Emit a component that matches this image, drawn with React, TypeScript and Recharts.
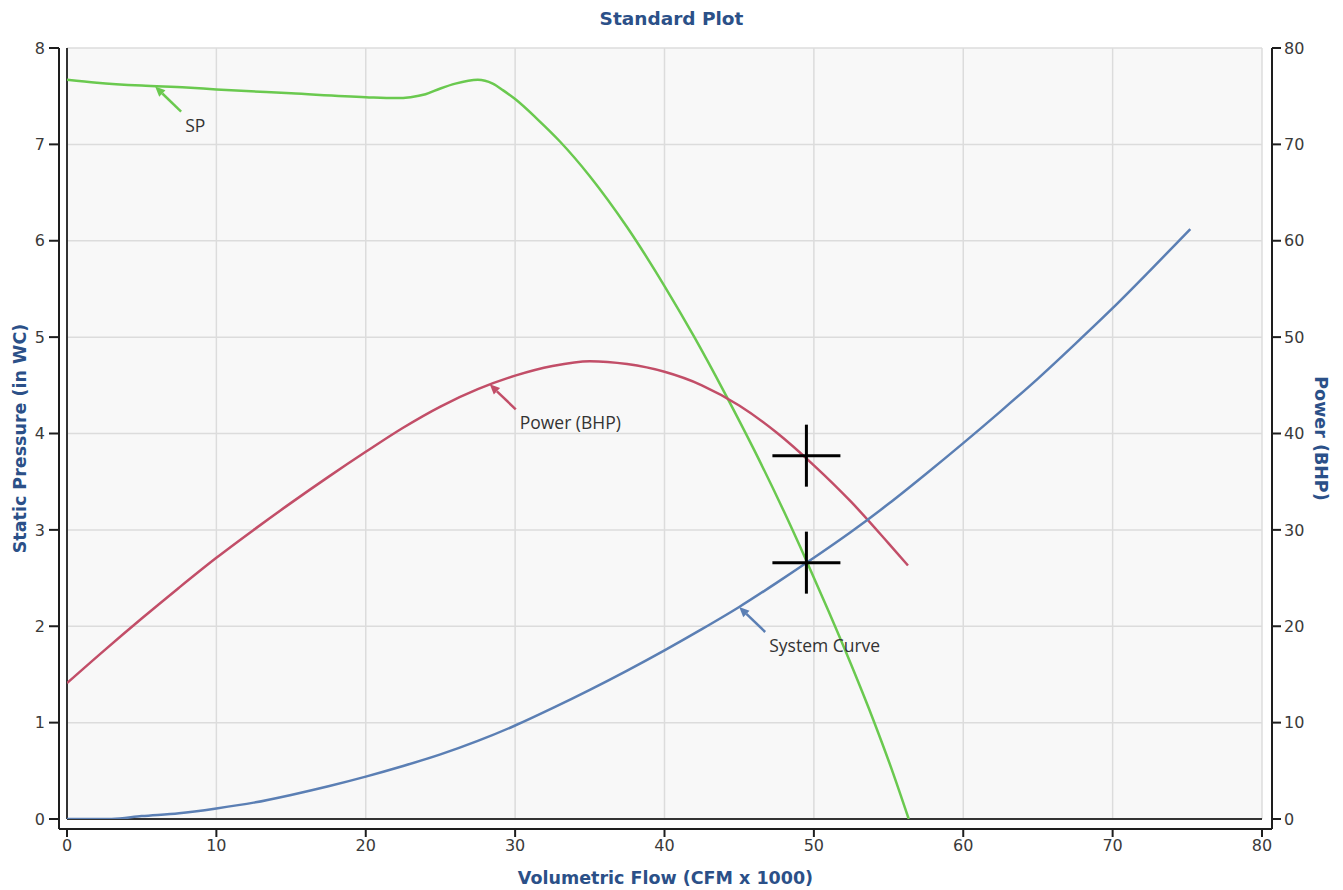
import {
  ComposedChart,
  Line,
  Scatter,
  XAxis,
  YAxis,
  ReferenceArea,
  ReferenceLine,
} from "recharts"

// flow in CFM x 1000
const spFlow = [0, 2, 5, 8, 10, 15, 20, 22, 23, 24, 25, 26, 27.5, 28.5, 29.2, 30, 31.5, 33, 35, 37.5, 40, 42, 44, 46, 48, 49.5, 51, 52.5, 54, 55.2, 56.35]
const spValues = [7.67, 7.64, 7.61, 7.59, 7.57, 7.53, 7.49, 7.48, 7.49, 7.52, 7.58, 7.63, 7.67, 7.63, 7.56, 7.47, 7.26, 7.03, 6.67, 6.14, 5.53, 5.0, 4.43, 3.83, 3.19, 2.68, 2.15, 1.6, 1.02, 0.52, 0]

const powerFlow = [0, 2.5, 5, 7.5, 10, 12.5, 15, 17.5, 20, 22.5, 25, 27.5, 30, 32.5, 35, 37.5, 40, 42.5, 45, 47.5, 50, 52.5, 55, 56.3]
const powerValues = [14.1, 17.5, 20.8, 24.0, 27.1, 30.0, 32.8, 35.5, 38.1, 40.6, 42.8, 44.6, 46.0, 47.0, 47.5, 47.2, 46.4, 45.0, 42.9, 40.1, 36.7, 32.9, 28.6, 26.3]

const systemFlow = [0, 3, 5, 7.5, 10, 12.5, 15, 17.5, 20, 22.5, 25, 27.5, 30, 32.5, 35, 37.5, 40, 42.5, 45, 47.5, 50, 52.5, 55, 57.5, 60, 62.5, 65, 67.5, 70, 72.5, 75.2]
const systemValues = [0, 0, 0.03, 0.06, 0.11, 0.17, 0.25, 0.34, 0.44, 0.55, 0.67, 0.81, 0.97, 1.15, 1.34, 1.54, 1.75, 1.97, 2.2, 2.45, 2.71, 2.98, 3.27, 3.58, 3.9, 4.23, 4.57, 4.93, 5.3, 5.69, 6.12]

// operating point
const opFlow = 49.5
const opPressure = 2.66
const opPower = 37.7

const xTicks = [0, 10, 20, 30, 40, 50, 60, 70, 80]
const spTicks = [0, 1, 2, 3, 4, 5, 6, 7, 8]
const powerTicks = [0, 10, 20, 30, 40, 50, 60, 70, 80]

const GREEN = "#6ac94f"
const RED = "#c24e68"
const BLUE = "#5b7fb4"
const NAVY = "#2b5088"

// callouts: where the arrow points on each curve
const spNote = [{ x: 5.9, y: 7.6, text: "SP", color: GREEN }]
const powerNote = [{ x: 28.3, y: 45.1, text: "Power (BHP)", color: RED }]
const systemNote = [{ x: 45, y: 2.2, text: "System Curve", color: BLUE }]

const toPoints = (xs: number[], ys: number[]) => xs.map((x, i) => ({ x, y: ys[i] }))
const spData = toPoints(spFlow, spValues)
const powerData = toPoints(powerFlow, powerValues)
const systemData = toPoints(systemFlow, systemValues)

const tickStyle = { fontSize: 16, fill: "#3a3a3a", fontFamily: "DejaVu Sans" }
const axisStroke = { stroke: "#1e1e1e", strokeWidth: 2 }
const titleStyle = { fontSize: 17.5, fontWeight: 700, fill: NAVY, fontFamily: "DejaVu Sans" }

function Cross(props: any) {
  const { cx, cy } = props
  return (
    <g>
      <line x1={cx - 34} x2={cx + 34} y1={cy} y2={cy} stroke="#000" strokeWidth={3} />
      <line x1={cx} x2={cx} y1={cy - 31} y2={cy + 31} stroke="#000" strokeWidth={3} />
    </g>
  )
}

function Callout(props: any) {
  const { cx, cy, payload } = props
  const c = payload.color
  const dx = 26
  const dy = 25
  const len = Math.hypot(dx, dy)
  const ux = dx / len
  const uy = dy / len
  const head = 10
  const wing = 4.5
  const bx = cx + ux * head
  const by = cy + uy * head
  return (
    <g>
      <line x1={cx + dx} y1={cy + dy} x2={bx} y2={by} stroke={c} strokeWidth={2.5} />
      <polygon
        points={`${cx},${cy} ${bx - uy * wing},${by + ux * wing} ${bx + uy * wing},${by - ux * wing}`}
        fill={c}
      />
      <text
        x={cx + 30}
        y={cy + 38}
        dominantBaseline="central"
        fontSize={17.5}
        fontFamily="'Open Sans'"
        fill="#333"
      >
        {payload.text}
      </text>
    </g>
  )
}

export default function App() {
  return (
    <div style={{ position: "absolute", left: 0, top: 0, width: 1343, height: 890, background: "#fff" }}>
      <div
        style={{
          position: "absolute",
          top: 8,
          left: 0,
          width: 1343,
          textAlign: "center",
          fontFamily: "DejaVu Sans",
          fontWeight: 700,
          fontSize: 18.5,
          color: NAVY,
        }}
      >
        Standard Plot
      </div>
      <ComposedChart width={1343} height={890} margin={{ top: 48, right: 0, bottom: 0, left: 0 }}>
        <XAxis
          type="number"
          dataKey="x"
          domain={[0, 80]}
          ticks={xTicks}
          allowDataOverflow
          padding={{ left: 8, right: 10 }}
          height={61}
          tickSize={8}
          tickMargin={3}
          tick={tickStyle}
          axisLine={axisStroke}
          tickLine={axisStroke}
          label={{ value: "Volumetric Flow (CFM x 1000)", position: "insideBottom", offset: 6, style: titleStyle }}
        />
        <YAxis
          yAxisId="left"
          dataKey="y"
          type="number"
          domain={[0, 8]}
          ticks={spTicks}
          allowDataOverflow
          padding={{ top: 0, bottom: 10 }}
          width={59}
          tickSize={10}
          tickMargin={4}
          tick={tickStyle}
          axisLine={axisStroke}
          tickLine={axisStroke}
          label={{
            value: "Static Pressure (in WC)",
            angle: -90,
            position: "insideLeft",
            offset: 20,
            style: { ...titleStyle, textAnchor: "middle" },
          }}
        />
        <YAxis
          yAxisId="right"
          orientation="right"
          dataKey="y"
          type="number"
          domain={[0, 80]}
          ticks={powerTicks}
          allowDataOverflow
          padding={{ top: 0, bottom: 10 }}
          width={71}
          tickSize={9}
          tickMargin={3}
          tick={tickStyle}
          axisLine={axisStroke}
          tickLine={axisStroke}
          label={{
            value: "Power (BHP)",
            angle: 90,
            position: "insideRight",
            offset: 22,
            style: { ...titleStyle, textAnchor: "middle" },
          }}
        />

        <ReferenceArea yAxisId="left" x1={0} x2={80} y1={0} y2={8} fill="#f8f8f8" fillOpacity={1} stroke="none" />
        {xTicks.slice(1).map((t) => (
          <ReferenceLine
            key={`vx${t}`}
            yAxisId="left"
            segment={[{ x: t, y: 0 }, { x: t, y: 8 }]}
            stroke="#dcdcdc"
            strokeWidth={1.5}
          />
        ))}
        {spTicks.slice(1).map((t) => (
          <ReferenceLine
            key={`hy${t}`}
            yAxisId="left"
            segment={[{ x: 0, y: t }, { x: 80, y: t }]}
            stroke="#dcdcdc"
            strokeWidth={1.5}
          />
        ))}
        <ReferenceLine yAxisId="left" segment={[{ x: 0, y: 0 }, { x: 0, y: 8 }]} stroke="#333" strokeWidth={2} />
        <ReferenceLine yAxisId="left" segment={[{ x: 0, y: 0 }, { x: 80, y: 0 }]} stroke="#333" strokeWidth={2} />

        <Line data={spData} yAxisId="left" dataKey="y" type="monotone" stroke={GREEN} strokeWidth={2.5} dot={false} isAnimationActive={false} />
        <Line data={powerData} yAxisId="right" dataKey="y" type="monotone" stroke={RED} strokeWidth={2.5} dot={false} isAnimationActive={false} />
        <Line data={systemData} yAxisId="left" dataKey="y" type="monotone" stroke={BLUE} strokeWidth={2.5} dot={false} isAnimationActive={false} />

        <Scatter data={[{ x: opFlow, y: opPower }]} yAxisId="right" dataKey="y" shape={Cross} isAnimationActive={false} />
        <Scatter data={[{ x: opFlow, y: opPressure }]} yAxisId="left" dataKey="y" shape={Cross} isAnimationActive={false} />

        <Scatter data={spNote} yAxisId="left" dataKey="y" shape={Callout} isAnimationActive={false} />
        <Scatter data={powerNote} yAxisId="right" dataKey="y" shape={Callout} isAnimationActive={false} />
        <Scatter data={systemNote} yAxisId="left" dataKey="y" shape={Callout} isAnimationActive={false} />
      </ComposedChart>
    </div>
  )
}
